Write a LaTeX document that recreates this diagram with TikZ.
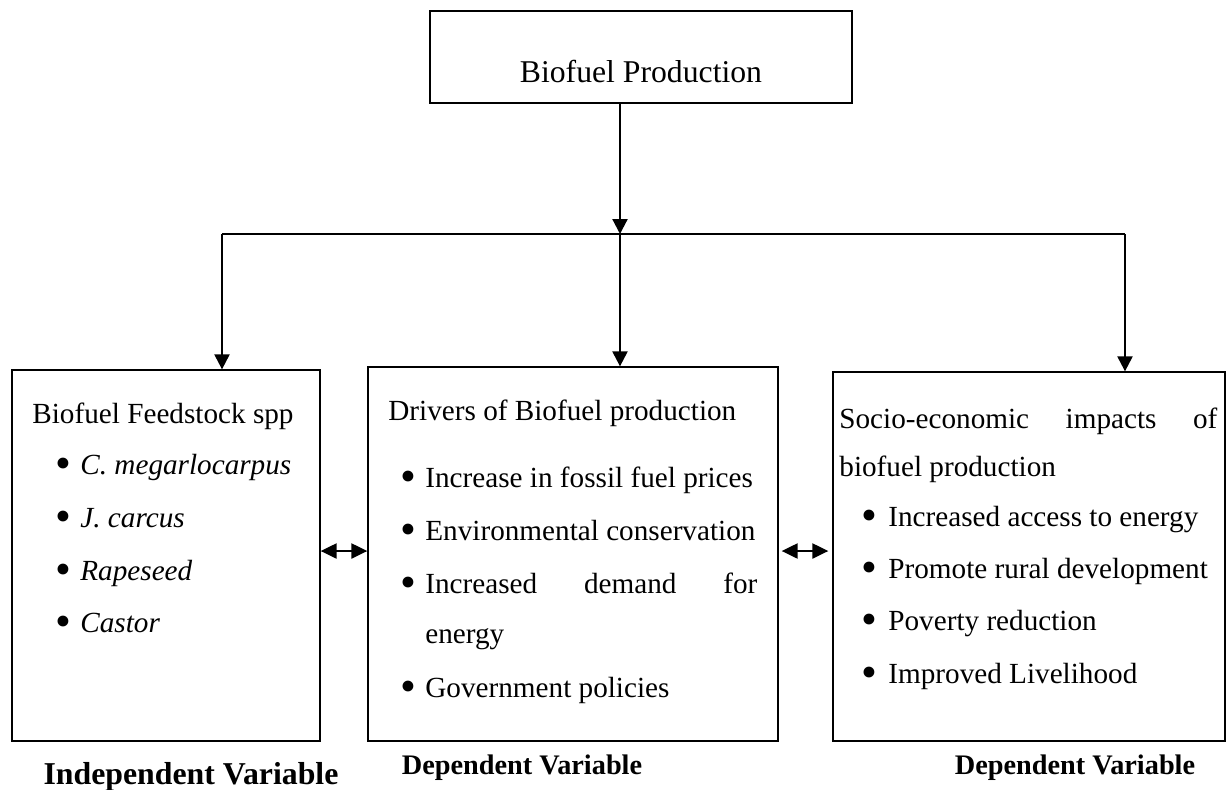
\documentclass[tikz,border=0pt]{standalone}
\usepackage{fontspec}
\setmainfont{Liberation Serif}
\usetikzlibrary{arrows.meta}
\newcommand\bodysize{\fontsize{14.6}{17.5}\selectfont}
\newcommand\itemdot[1][12.5pt]{\makebox[#1][l]{\raisebox{-0.16em}{\scalebox{1.55}{\textbullet}}}}
\tikzset{
  box/.style={draw, line width=0.65pt, inner sep=0pt},
  txt/.style={anchor=base west, inner sep=0pt, font=\bodysize},
  flow/.style={line width=1.1pt, -{Triangle[length=7.5pt,width=7.5pt]}},
  twoway/.style={line width=1.1pt, {Triangle[length=8pt,width=7.5pt]}-{Triangle[length=8pt,width=7.5pt]}},
  varname/.style={anchor=base, inner sep=0pt}
}
\begin{document}
\begin{tikzpicture}[x=0.5pt,y=-0.5pt]
  \useasboundingbox (0,0) rectangle (1227,789);
  % boxes
  \node[box, minimum width=211pt, minimum height=46pt] (prod) at (641,57) {};
  \node[anchor=base, inner sep=0pt, font=\fontsize{15.85}{19}\selectfont] (prodtxt) at (641,82) {Biofuel Production};
  \node[box, minimum width=154pt, minimum height=185.5pt] (feed) at (166,555.5) {};
  \node[box, minimum width=205pt, minimum height=187pt] (drive) at (573,554) {};
  \node[box, minimum width=196pt, minimum height=184.5pt] (impact) at (1029,556.5) {};
  % connectors
  \coordinate (split) at (620,234);
  \coordinate (jl) at (222,234);
  \coordinate (jr) at (1125,234);
  \coordinate (mid) at (0,551);
  \draw[flow] (prod.south -| split) -- (split);
  \draw[line width=0.9pt] (jl) -- (jr);
  \draw[flow] (jl) -- (jl |- feed.north);
  \draw[flow] (split) -- (split |- drive.north);
  \draw[flow] (jr) -- (jr |- impact.north);
  \draw[twoway] (feed.east |- mid) -- (drive.west |- mid);
  \draw[twoway, shorten <=1.5pt, shorten >=2pt] (drive.east |- mid) -- (impact.west |- mid);
  % feedstock box
  \node[txt] (feedhead) at (32,423) {Biofuel Feedstock spp};
  \foreach \y/\name [count=\i] in {474/C. megarlocarpus, 527/J. carcus, 580/Rapeseed, 632/Castor}
    \node[txt] (feed\i) at (55,\y) {\itemdot\textit{\name}};
  % drivers box
  \node[txt] (drivehead) at (388,420) {Drivers of Biofuel production};
  \node[txt] (drive1) at (400,487) {\itemdot Increase in fossil fuel prices};
  \node[txt] (drive2) at (400,540) {\itemdot Environmental conservation};
  \node[txt] (drive3) at (400,593) {\itemdot\makebox[166pt][s]{Increased demand for}};
  \node[txt] (drive3b) at (425,643) {energy};
  \node[txt] (drive4) at (400,697) {\itemdot Government policies};
  % impacts box
  \node[txt] (impacthead) at (839,428) {\makebox[189pt][s]{Socio-economic impacts of}};
  \node[txt] (impacthead2) at (839,476) {biofuel production};
  \foreach \y/\name [count=\i] in {526/Increased access to energy, 578/Promote rural development, 630/Poverty reduction, 683/Improved Livelihood}
    \node[txt] (impact\i) at (861,\y) {\itemdot[13.5pt]\name};
  % variable labels
  \node[varname, font=\fontsize{15.9}{19}\selectfont\bfseries] (indep) at (191,784) {Independent Variable};
  \node[varname, font=\fontsize{14.15}{17}\selectfont\bfseries] (dep1) at (522,774) {Dependent Variable};
  \node[varname, font=\fontsize{14.15}{17}\selectfont\bfseries] (dep2) at (1075,774) {Dependent Variable};
\end{tikzpicture}
\end{document}
